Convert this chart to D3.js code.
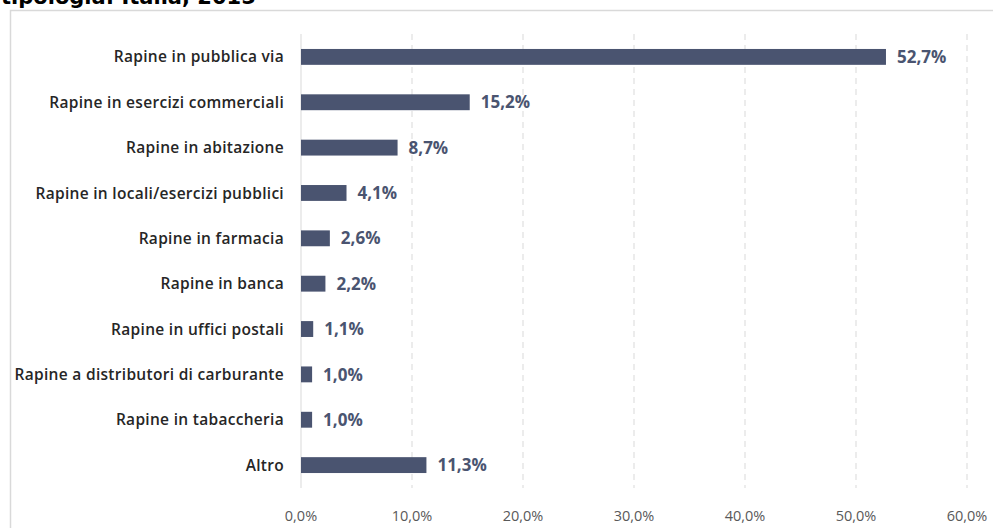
<!DOCTYPE html>
<html>
<head>
<meta charset="utf-8">
<script src="https://cdn.jsdelivr.net/npm/d3@7"></script>
<style>
  body { margin: 0; background: #fff; }
  svg { display: block; }
</style>
</head>
<body>
<script>
'use strict';

// categories, top to bottom
var categories = [
   "Rapine in pubblica via",
   "Rapine in esercizi commerciali",
   "Rapine in abitazione",
   "Rapine in locali/esercizi pubblici",
   "Rapine in farmacia",
   "Rapine in banca",
   "Rapine in uffici postali",
   "Rapine a distributori di carburante",
   "Rapine in tabaccheria",
   "Altro"
];

var values = [52.7, 15.2, 8.7, 4.1, 2.6, 2.2, 1.1, 1.0, 1.0, 11.3];

var tickValues = [0, 10, 20, 30, 40, 50, 60];

var title = "tipologia: Italia, 2015";

var width = 993, height = 528;

var svg = d3.select("body").append("svg")
   .attr("width", width)
   .attr("height", height);

// frame of the chart area (cut off at right and bottom)
svg.append("rect")
   .attr("x", 10.5)
   .attr("y", 10.5)
   .attr("width", 1000)
   .attr("height", 600)
   .attr("fill", "#fff")
   .attr("stroke", "#d9d9d9")
   .attr("stroke-width", 1.5);

// title, partly cut by the top edge
svg.append("text")
   .attr("x", 1)
   .attr("y", 4)
   .style("font-family", "DejaVu Sans")
   .style("font-weight", "bold")
   .style("font-size", "21px")
   .attr("fill", "#000")
   .text(title);

var x = d3.scaleLinear().domain([0, 60]).range([301, 967]);
var y = d3.scaleBand().domain(categories).range([34, 488]).paddingInner(0.65).paddingOuter(0.33);

var fmt = function(v){ return d3.format(".1f")(v).replace(".", ",") + "%"; };

// dashed gridlines
svg.selectAll("line.grid")
   .data(tickValues.slice(1))
   .enter()
   .append("line")
   .attr("class", "grid")
   .attr("x1", function(d){ return x(d); })
   .attr("x2", function(d){ return x(d); })
   .attr("y1", 34)
   .attr("y2", 488)
   .attr("stroke", "#d9d9d9")
   .attr("stroke-width", 1)
   .attr("stroke-dasharray", "6,5");

// category axis line
svg.append("line")
   .attr("x1", x(0)).attr("x2", x(0))
   .attr("y1", 34).attr("y2", 488)
   .attr("stroke", "#d9d9d9")
   .attr("stroke-width", 1);

// bars
svg.selectAll("rect.bar")
   .data(values)
   .enter()
   .append("rect")
   .attr("class", "bar")
   .attr("x", x(0))
   .attr("y", function(d, i){ return y(categories[i]); })
   .attr("width", function(d){ return x(d) - x(0); })
   .attr("height", y.bandwidth())
   .attr("fill", "#4a5470");

// value labels
svg.selectAll("text.val")
   .data(values)
   .enter()
   .append("text")
   .attr("class", "val")
   .attr("x", function(d){ return x(d) + 11; })
   .attr("y", function(d, i){ return y(categories[i]) + y.bandwidth() / 2; })
   .attr("dy", "0.36em")
   .style("font-family", "Open Sans")
   .style("font-weight", "bold")
   .style("font-size", "17px")
   .attr("fill", "#4a5470")
   .text(fmt);

// category labels
svg.selectAll("text.cat")
   .data(categories)
   .enter()
   .append("text")
   .attr("class", "cat")
   .attr("x", 284)
   .attr("y", function(d){ return y(d) + y.bandwidth() / 2; })
   .attr("dy", "0.36em")
   .attr("text-anchor", "end")
   .style("font-family", "Open Sans")
   .style("font-weight", "600")
   .style("font-size", "15.5px")
   .style("letter-spacing", "0.3px")
   .attr("fill", "#262626")
   .text(function(d){ return d; });

// x tick labels
svg.selectAll("text.tick")
   .data(tickValues)
   .enter()
   .append("text")
   .attr("class", "tick")
   .attr("x", function(d){ return x(d); })
   .attr("y", 516)
   .attr("dy", "0.36em")
   .attr("text-anchor", "middle")
   .style("font-family", "Open Sans")
   .style("font-size", "14.5px")
   .attr("fill", "#595959")
   .text(fmt);
</script>
</body>
</html>
